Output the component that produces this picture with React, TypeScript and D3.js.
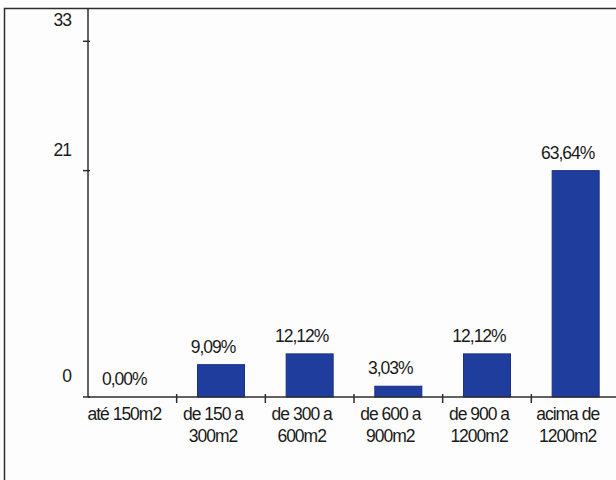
import React from "react";
import * as d3 from "d3";

// Number of properties per lot-size class
const categories: string[][] = [
  ["até 150m2"],
  ["de 150 a", "300m2"],
  ["de 300 a", "600m2"],
  ["de 600 a", "900m2"],
  ["de 900 a", "1200m2"],
  ["acima de", "1200m2"],
];
const counts: number[] = [0, 3, 4, 1, 4, 21];
const yTicks: number[] = [0, 21, 33];

const W = 616;
const H = 480;
const plotLeft = 88;
const plotRight = 620;
const plotTop = 8;
const baseY = 397;
const font = "'Liberation Sans', Arial, sans-serif";
const textColor = "#1a1a1a";
const lineColor = "#2e2e2e";

export default function App() {
  const total = d3.sum(counts);
  const y = d3.scaleLinear().domain([0, 33]).range([baseY, 41.3]);
  const slot = d3
    .scaleBand<number>()
    .domain(counts.map((_, i) => i))
    .range([plotLeft, plotRight])
    .padding(0);
  const barW = slot.bandwidth() * 0.53;
  const fmt = (v: number) => ((v / total) * 100).toFixed(2).replace(".", ",") + "%";

  const textStyle = {
    fontFamily: font,
    fontSize: 17.5,
    letterSpacing: "-1px",
    fill: textColor,
  } as React.CSSProperties;

  return (
    <svg
      width={W}
      height={H}
      style={{ position: "absolute", left: 0, top: 0, display: "block", background: "#fdfdfd" }}
    >
      {/* frame */}
      <rect x={4.5} y={8.5} width={W + 40} height={H + 40} fill="none" stroke={lineColor} strokeWidth={1.5} />

      {/* bars */}
      {counts.map((c, i) => {
        const cx = (slot(i) as number) + slot.bandwidth() / 2;
        return (
          <g key={i}>
            {c > 0 && (
              <rect
                x={cx - barW / 2}
                y={y(c)}
                width={barW}
                height={baseY - y(c)}
                fill="#1f3d9c"
                stroke="#1a2f86"
                strokeWidth={1}
              />
            )}
            <text x={cx - 8} y={y(c) - 12} textAnchor="middle" style={textStyle}>
              {fmt(c)}
            </text>
          </g>
        );
      })}

      {/* y axis */}
      <line x1={plotLeft} x2={plotLeft} y1={plotTop} y2={baseY} stroke={lineColor} strokeWidth={1.5} />
      {yTicks.map((t) => (
        <g key={t}>
          <line x1={plotLeft - 5} x2={plotLeft + 2} y1={y(t)} y2={y(t)} stroke={lineColor} strokeWidth={1.5} />
          <text x={71} y={y(t) - 15} textAnchor="end" style={textStyle}>
            {t}
          </text>
        </g>
      ))}

      {/* x axis */}
      <line x1={plotLeft} x2={W} y1={baseY} y2={baseY} stroke={lineColor} strokeWidth={1.5} />
      {categories.map((lines, i) => {
        const x0 = slot(i) as number;
        const cx = x0 + slot.bandwidth() / 2;
        return (
          <g key={i}>
            {i > 0 && (
              <line x1={x0} x2={x0} y1={baseY - 3} y2={baseY + 6} stroke={lineColor} strokeWidth={1.5} />
            )}
            {lines.map((l, j) => (
              <text key={j} x={cx - 8} y={419.5 + j * 22.5} textAnchor="middle" style={textStyle}>
                {l}
              </text>
            ))}
          </g>
        );
      })}
    </svg>
  );
}
